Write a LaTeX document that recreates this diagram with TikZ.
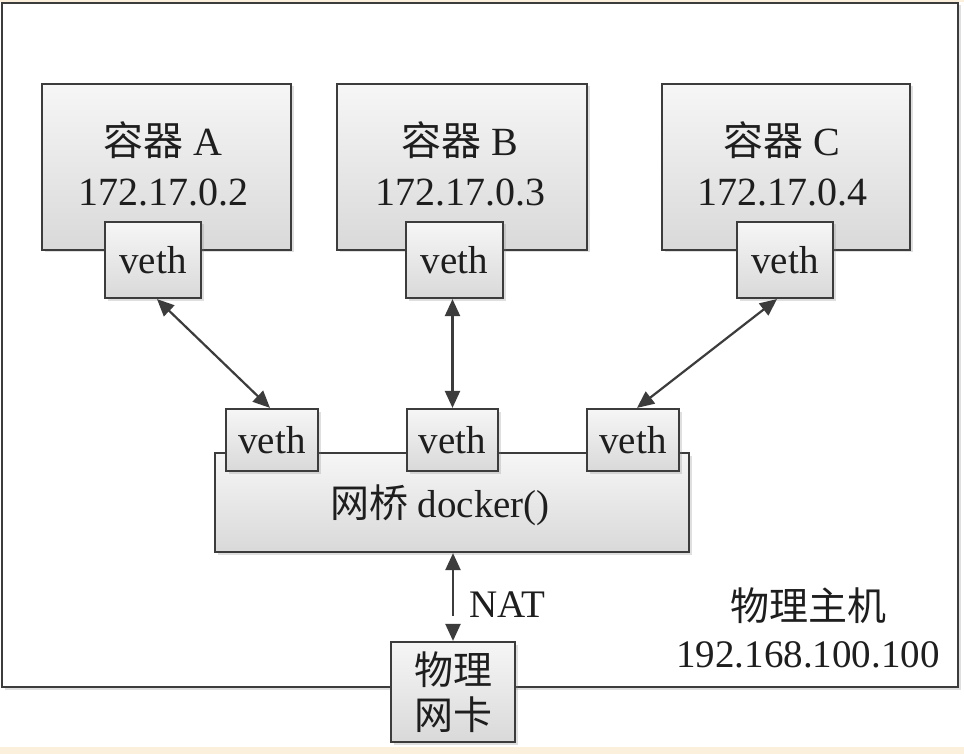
\documentclass[tikz,border=0pt]{standalone}
\usepackage{fontspec}
\setmainfont{Liberation Serif}
\newfontfamily\cjk{Noto Sans CJK SC}
\usetikzlibrary{arrows.meta,shadows}
\definecolor{beige}{HTML}{FAF0DC}
\definecolor{edgec}{HTML}{3C3C3C}
\definecolor{boxtop}{HTML}{F6F6F6}
\definecolor{boxbot}{HTML}{D9D9D9}
\definecolor{txtc}{HTML}{1E1E1E}
\begin{document}
\begin{tikzpicture}[x=1pt,y=-1pt,
  shadowed/.style={drop shadow={shadow xshift=2.5pt,shadow yshift=-2.5pt,opacity=0.25}},
  box/.style={rectangle, draw=edgec, line width=2.2pt, top color=boxtop, bottom color=boxbot,
    inner sep=0pt, align=center, text=txtc, font=\fontsize{39}{48}\selectfont, shadowed},
  framebox/.style={rectangle, draw=edgec, line width=2.6pt, fill=white, inner sep=0pt, shadowed},
  txt/.style={inner sep=0pt, align=center, text=txtc, font=\fontsize{39}{47}\selectfont},
  ctxt/.style={txt, font=\fontsize{40}{50}\selectfont},
  link/.style={draw=edgec, line width=2.2pt, {Triangle[length=17pt,width=15pt]}-{Triangle[length=17pt,width=15pt]}}
]
\useasboundingbox (0,0) rectangle (964,754);
\fill[white] (0,0) rectangle (964,754);
\fill[beige] (0,0) rectangle (964,2);
\fill[beige] (0,747) rectangle (964,754);

% host frame
\node[framebox, minimum width=956pt, minimum height=684pt] (host) at (480,345) {};

% containers
\node[box, minimum width=249pt, minimum height=166pt] (cA) at (166.5,167) {};
\node[box, minimum width=250pt, minimum height=166pt] (cB) at (462,167) {};
\node[box, minimum width=248pt, minimum height=166pt] (cC) at (786,167) {};
\node[ctxt] (cAlabel) at (163,164) {{\cjk 容器} A\\172.17.0.2};
\node[ctxt] (cBlabel) at (460,164) {{\cjk 容器} B\\172.17.0.3};
\node[ctxt] (cClabel) at (782,164) {{\cjk 容器} C\\172.17.0.4};

\node[box, minimum width=96pt, minimum height=76pt] (vA) at (153,260) {veth};
\node[box, minimum width=97pt, minimum height=76pt] (vB) at (454.5,260) {veth};
\node[box, minimum width=96pt, minimum height=76pt] (vC) at (785,260) {veth};

% bridge
\node[box, minimum width=474pt, minimum height=99pt] (br) at (452,502.5) {};
\node[txt] (brlabel) at (440,505) {{\cjk 网桥} docker()};
\node[box, minimum width=92pt, minimum height=62pt] (bvA) at (272,440) {veth};
\node[box, minimum width=91pt, minimum height=62pt] (bvB) at (452.5,440) {veth};
\node[box, minimum width=92pt, minimum height=62pt] (bvC) at (633,440) {veth};

% physical NIC
\node[box, minimum width=124pt, minimum height=100pt, font=\fontsize{39}{45}\selectfont] (nic) at (453,692) {{\cjk 物理}\\{\cjk 网卡}};

% labels
\node[txt, anchor=west] (nat) at (469,605) {NAT};
\node[txt] (hostlabel) at (808,628) {{\cjk 物理主机}\\192.168.100.100};

% connectors
\draw[link] ([xshift=4pt]vA.south) -- ([xshift=-2pt]bvA.north);
\draw[link] (bvB.north |- vB.south) -- (bvB.north);
\draw[link] ([xshift=-8pt]vC.south) -- ([xshift=4pt]bvC.north);
\draw[link, dash pattern=on 46pt off 13pt] (br.south -| nic.north) -- (nic.north);
\end{tikzpicture}
\end{document}
